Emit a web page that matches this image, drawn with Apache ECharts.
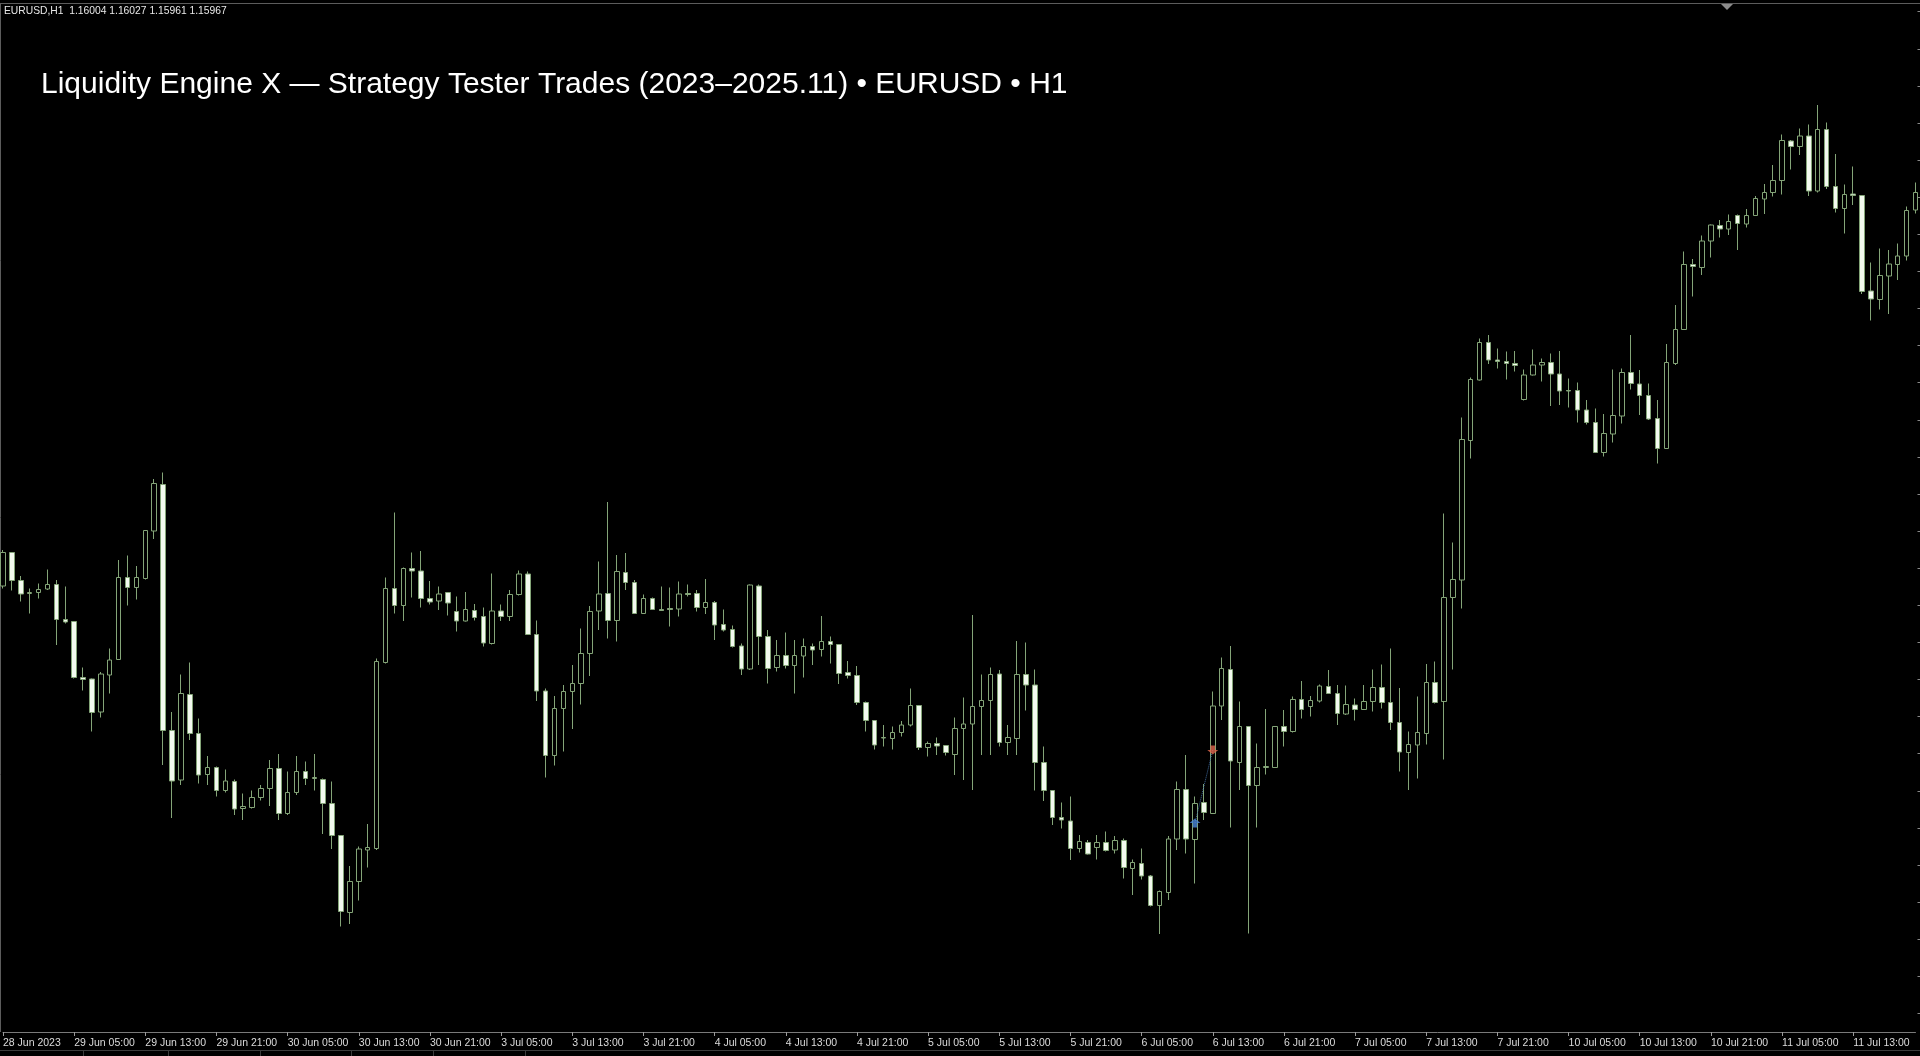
<!DOCTYPE html>
<html><head><meta charset="utf-8">
<script src="https://cdn.jsdelivr.net/npm/echarts@6/dist/echarts.min.js"></script>
<style>html,body{margin:0;padding:0;background:#000;overflow:hidden}#c{width:1920px;height:1056px}</style>
</head><body><div id="c"></div>
<script>
const chartTitle = 'Liquidity Engine X \u2014 Strategy Tester Trades (2023\u20132025.11) \u2022 EURUSD \u2022 H1';
const infoLine = 'EURUSD,H1  1.16004 1.16027 1.15961 1.15967';
const tickLabels = ['28 Jun 2023','29 Jun 05:00','29 Jun 13:00','29 Jun 21:00','30 Jun 05:00','30 Jun 13:00','30 Jun 21:00',
  '3 Jul 05:00','3 Jul 13:00','3 Jul 21:00','4 Jul 05:00','4 Jul 13:00','4 Jul 21:00','5 Jul 05:00','5 Jul 13:00','5 Jul 21:00',
  '6 Jul 05:00','6 Jul 13:00','6 Jul 21:00','7 Jul 05:00','7 Jul 13:00','7 Jul 21:00','10 Jul 05:00','10 Jul 13:00','10 Jul 21:00',
  '11 Jul 05:00','11 Jul 13:00'];
const opens = [
1.09228,1.09295,1.09239,1.09213,1.09215,1.09222,1.09231,1.09161,1.09157,1.09045,1.09042,1.08976,
1.09050,1.09081,1.09245,1.09225,1.09243,1.09338,1.09431,1.08939,1.08840,1.09011,1.08933,1.08851,
1.08865,1.08819,1.08837,1.08783,1.08785,1.08805,1.08823,1.08863,1.08773,1.08815,1.08857,1.08843,
1.08841,1.08793,1.08729,1.08575,1.08637,1.08700,1.08703,1.09075,1.09223,1.09189,1.09263,1.09258,
1.09203,1.09198,1.09215,1.09177,1.09158,1.09179,1.09167,1.09113,1.09178,1.09167,1.09211,1.09252,
1.09131,1.09018,1.08889,1.08983,1.09017,1.09033,1.09093,1.09178,1.09213,1.09159,1.09255,1.09235,
1.09173,1.09203,1.09181,1.09183,1.09182,1.09213,1.09213,1.09185,1.09195,1.09151,1.09141,1.09108,
1.09062,1.09228,1.09127,1.09065,1.09089,1.09069,1.09088,1.09107,1.09101,1.09117,1.09111,1.09055,
1.09049,1.08995,1.08959,1.08924,1.08923,1.08935,1.08950,1.08989,1.08905,1.08913,1.08909,1.08891,
1.08943,1.08952,1.08987,1.08999,1.09052,1.08915,1.08923,1.09051,1.09030,1.08875,1.08819,1.08765,
1.08758,1.08703,1.08715,1.08705,1.08715,1.08700,1.08719,1.08663,1.08673,1.08648,1.08589,1.08615,
1.08722,1.08821,1.08721,1.08795,1.08773,1.08988,1.09061,1.08875,1.08947,1.08829,1.08865,1.08865,
1.08947,1.08937,1.09001,1.08987,1.08998,1.09027,1.09013,1.08972,1.08990,1.08981,1.08997,1.09025,
1.08995,1.08955,1.08895,1.08910,1.08933,1.09035,1.08997,1.09205,1.09240,1.09519,1.09640,1.09715,
1.09680,1.09677,1.09673,1.09601,1.09650,1.09670,1.09675,1.09652,1.09619,1.09619,1.09580,1.09555,
1.09495,1.09532,1.09568,1.09655,1.09632,1.09609,1.09563,1.09503,1.09673,1.09741,1.09871,1.09865,
1.09918,1.09949,1.09942,1.09969,1.09952,1.09969,1.10002,1.10015,1.10039,1.10118,1.10107,1.10128,
1.10018,1.10141,1.10027,1.09983,1.10012,1.10009,1.09818,1.09801,1.09848,1.09871,1.09888,1.09980];
const closes = [
1.09295,1.09239,1.09212,1.09215,1.09221,1.09231,1.09161,1.09156,1.09045,1.09041,1.08975,1.09052,
1.09080,1.09245,1.09225,1.09245,1.09339,1.09433,1.08939,1.08838,1.09013,1.08933,1.08850,1.08865,
1.08819,1.08838,1.08782,1.08787,1.08805,1.08823,1.08863,1.08773,1.08815,1.08857,1.08843,1.08845,
1.08793,1.08729,1.08577,1.08637,1.08702,1.08705,1.09077,1.09223,1.09189,1.09263,1.09258,1.09203,
1.09196,1.09212,1.09194,1.09158,1.09181,1.09165,1.09114,1.09178,1.09167,1.09211,1.09252,1.09131,
1.09018,1.08889,1.08983,1.09017,1.09033,1.09093,1.09177,1.09212,1.09159,1.09257,1.09235,1.09173,
1.09203,1.09181,1.09179,1.09181,1.09212,1.09211,1.09185,1.09195,1.09150,1.09140,1.09107,1.09062,
1.09230,1.09127,1.09063,1.09089,1.09069,1.09089,1.09107,1.09100,1.09117,1.09111,1.09053,1.09049,
1.08995,1.08959,1.08910,1.08925,1.08935,1.08950,1.08989,1.08905,1.08913,1.08908,1.08895,1.08943,
1.08952,1.08987,1.08999,1.09051,1.08915,1.08925,1.09051,1.09030,1.08875,1.08819,1.08765,1.08760,
1.08703,1.08717,1.08692,1.08715,1.08699,1.08719,1.08665,1.08675,1.08648,1.08589,1.08617,1.08722,
1.08821,1.08722,1.08793,1.08775,1.08988,1.09063,1.08878,1.08947,1.08829,1.08865,1.08867,1.08947,
1.08937,1.09001,1.08981,1.08999,1.09028,1.09013,1.08973,1.08991,1.08981,1.08997,1.09025,1.08995,
1.08955,1.08896,1.08911,1.08935,1.09035,1.08995,1.09205,1.09241,1.09521,1.09641,1.09715,1.09680,
1.09677,1.09673,1.09669,1.09650,1.09670,1.09675,1.09652,1.09618,1.09618,1.09580,1.09555,1.09495,
1.09533,1.09569,1.09655,1.09633,1.09609,1.09562,1.09503,1.09675,1.09741,1.09871,1.09867,1.09918,
1.09950,1.09942,1.09957,1.09953,1.09969,1.10003,1.10015,1.10039,1.10119,1.10107,1.10128,1.10018,
1.10141,1.10027,1.09983,1.10011,1.10009,1.09817,1.09802,1.09849,1.09872,1.09888,1.09979,1.10015];
const lows = [
1.09223,1.09219,1.09197,1.09173,1.09203,1.09220,1.09110,1.09153,1.09043,1.09019,1.08937,1.08965,
1.09013,1.09080,1.09189,1.09201,1.09241,1.09322,1.08870,1.08764,1.08830,1.08920,1.08833,1.08830,
1.08807,1.08815,1.08770,1.08760,1.08783,1.08799,1.08788,1.08760,1.08770,1.08810,1.08830,1.08819,
1.08732,1.08702,1.08547,1.08552,1.08599,1.08665,1.08700,1.09073,1.09173,1.09158,1.09205,1.09185,
1.09191,1.09180,1.09169,1.09137,1.09157,1.09159,1.09107,1.09111,1.09158,1.09158,1.09209,1.09130,
1.08998,1.08845,1.08869,1.08897,1.08942,1.08991,1.09048,1.09140,1.09123,1.09117,1.09220,1.09172,
1.09172,1.09180,1.09178,1.09147,1.09167,1.09207,1.09177,1.09172,1.09120,1.09137,1.09105,1.09050,
1.09060,1.09070,1.09033,1.09057,1.09063,1.09013,1.09045,1.09070,1.09087,1.09073,1.09032,1.09043,
1.08990,1.08937,1.08901,1.08907,1.08901,1.08927,1.08947,1.08900,1.08887,1.08890,1.08889,1.08850,
1.08840,1.08820,1.08890,1.08890,1.08907,1.08890,1.08890,1.08979,1.08819,1.08798,1.08750,1.08743,
1.08680,1.08695,1.08691,1.08681,1.08697,1.08693,1.08643,1.08610,1.08641,1.08587,1.08532,1.08600,
1.08700,1.08693,1.08633,1.08760,1.08772,1.08960,1.08745,1.08820,1.08533,1.08745,1.08851,1.08864,
1.08907,1.08935,1.08963,1.08967,1.08995,1.09012,1.08950,1.08970,1.08959,1.08980,1.08977,1.08983,
1.08940,1.08857,1.08820,1.08843,1.08911,1.08993,1.08881,1.09061,1.09183,1.09483,1.09639,1.09672,
1.09663,1.09641,1.09657,1.09599,1.09649,1.09637,1.09588,1.09590,1.09585,1.09555,1.09551,1.09494,
1.09487,1.09515,1.09553,1.09621,1.09570,1.09560,1.09473,1.09502,1.09670,1.09740,1.09807,1.09850,
1.09885,1.09925,1.09930,1.09900,1.09945,1.09968,1.09972,1.10007,1.10011,1.10061,1.10090,1.10008,
1.10015,1.10022,1.09975,1.09933,1.09990,1.09812,1.09759,1.09781,1.09772,1.09840,1.09879,1.09973];
const highs = [
1.09300,1.09296,1.09248,1.09223,1.09233,1.09261,1.09240,1.09227,1.09158,1.09065,1.09043,1.09056,
1.09103,1.09280,1.09289,1.09268,1.09340,1.09442,1.09455,1.08976,1.09051,1.09075,1.08963,1.08888,
1.08867,1.08861,1.08841,1.08813,1.08819,1.08830,1.08880,1.08892,1.08857,1.08888,1.08877,1.08892,
1.08843,1.08837,1.08730,1.08668,1.08707,1.08752,1.09083,1.09245,1.09375,1.09265,1.09295,1.09298,
1.09238,1.09227,1.09216,1.09207,1.09216,1.09192,1.09185,1.09253,1.09191,1.09220,1.09259,1.09257,
1.09159,1.09023,1.09008,1.09030,1.09070,1.09143,1.09188,1.09277,1.09396,1.09290,1.09294,1.09240,
1.09211,1.09205,1.09227,1.09225,1.09237,1.09231,1.09220,1.09242,1.09198,1.09181,1.09149,1.09113,
1.09231,1.09231,1.09140,1.09120,1.09135,1.09120,1.09123,1.09113,1.09168,1.09127,1.09112,1.09078,
1.09068,1.08997,1.08960,1.08950,1.08947,1.08958,1.09023,1.08990,1.08917,1.08925,1.08910,1.08965,
1.09005,1.09170,1.09051,1.09065,1.09060,1.08950,1.09118,1.09115,1.09061,1.08907,1.08820,1.08795,
1.08807,1.08730,1.08720,1.08730,1.08737,1.08728,1.08723,1.08681,1.08703,1.08650,1.08619,1.08728,
1.08837,1.08890,1.08807,1.08832,1.09017,1.09085,1.09108,1.08997,1.08948,1.08913,1.08982,1.08948,
1.08980,1.09007,1.09038,1.09008,1.09031,1.09060,1.09030,1.09029,1.09003,1.09030,1.09061,1.09071,
1.09103,1.09024,1.08937,1.09007,1.09072,1.09077,1.09373,1.09315,1.09565,1.09645,1.09723,1.09730,
1.09703,1.09697,1.09698,1.09661,1.09701,1.09683,1.09693,1.09698,1.09643,1.09635,1.09600,1.09583,
1.09572,1.09661,1.09663,1.09730,1.09660,1.09633,1.09600,1.09712,1.09790,1.09897,1.09882,1.09929,
1.09951,1.09960,1.09971,1.09971,1.09982,1.10008,1.10032,1.10070,1.10131,1.10120,1.10143,1.10151,
1.10190,1.10155,1.10092,1.10031,1.10067,1.10010,1.09875,1.09903,1.09900,1.09913,1.09987,1.10035];
const priceTicks = [1.10377,1.10302,1.10228,1.10154,1.10080,1.10006,1.09931,1.09857,1.09783,1.09709,1.09635,1.09560,
  1.09486,1.09412,1.09338,1.09264,1.09189,1.09115,1.09041,1.08967,1.08893,1.08818,1.08744,1.08670,1.08596,1.08522,1.08447,1.08373];
const buyEntry = [134, 1.08754];
const sellExit = [136, 1.08900];
const priceMin = 1.08336, priceMax = 1.10400;

// hourly bar times (weekends skipped)
const categories = [];
(function(){
  let t = Date.UTC(2023, 5, 28, 21);
  while (categories.length < opens.length) {
    const d = new Date(t), wd = d.getUTCDay();
    if (wd !== 0 && wd !== 6) categories.push(d.toISOString().slice(0,16).replace('T',' '));
    t += 3600000;
  }
})();
const candleData = opens.map((o, i) => [o, closes[i], lows[i], highs[i]]);

const G = '#84a578';
const tabX = [83, 168, 260, 351, 433, 525];
const chart = echarts.init(document.getElementById('c'), null, {renderer: 'canvas'});
chart.setOption({
  backgroundColor: '#000000',
  animation: false,
  grid: {left: 2, right: 4.5, top: 0, bottom: 24, containLabel: false},
  xAxis: {
    type: 'category', data: categories, boundaryGap: false,
    axisLine: {show: true, lineStyle: {color: '#7a7a7a', width: 1}},
    axisTick: {show: true, interval: (i) => i % 8 === 0, length: 4, lineStyle: {color: '#9a9a9a'}},
    axisLabel: {
      show: true, interval: (i) => i % 8 === 0, align: 'left', margin: 6,
      color: '#dcdcdc', fontSize: 10.5, fontFamily: 'Liberation Sans, Arial, sans-serif',
      formatter: (v, i) => tickLabels[Math.round(i / 8)] || ''
    },
    splitLine: {show: false}
  },
  yAxis: {
    type: 'value', position: 'right', min: priceMin, max: priceMax, offset: 2, scale: true,
    axisLine: {show: false},
    axisTick: {show: true, customValues: priceTicks, length: 3, lineStyle: {color: '#8a8a8a'}},
    axisLabel: {show: false},
    splitLine: {show: false}
  },
  title: {show: false},
  graphic: [
    {type: 'line', shape: {x1: 0, y1: 3.5, x2: 1920, y2: 3.5}, style: {stroke: '#5c5c5c', lineWidth: 1}, silent: true},
    {type: 'line', shape: {x1: 0.5, y1: 3, x2: 0.5, y2: 1032}, style: {stroke: '#5c5c5c', lineWidth: 1}, silent: true},
    {type: 'polygon', shape: {points: [[1721, 4], [1733, 4], [1727, 10]]}, style: {fill: '#8c8c8c'}, silent: true},
    {type: 'line', shape: {x1: 0, y1: 1050.5, x2: 1920, y2: 1050.5}, style: {stroke: '#3c3c3c', lineWidth: 1}, silent: true},
    ...tabX.map(x => ({type: 'line', shape: {x1: x + 0.5, y1: 1050, x2: x + 0.5, y2: 1056}, style: {stroke: '#3c3c3c', lineWidth: 1}, silent: true})),
    {type: 'text', left: 4, top: 6, style: {text: infoLine, fill: '#e8e8e8', fontSize: 10.3, fontFamily: 'Liberation Sans, Arial, sans-serif'}, silent: true},
    {type: 'text', x: 41, y: 70, style: {text: chartTitle, fill: '#ffffff', fontSize: 30, fontFamily: 'Liberation Sans, Arial, sans-serif'}, silent: true}
  ],
  series: [
    {
      type: 'candlestick', data: candleData, barWidth: 5, clip: false,
      itemStyle: {color: '#000000', color0: '#f3faef', borderColor: G, borderColor0: G, borderWidth: 1}
    },
    {
      type: 'line', data: [buyEntry, sellExit], symbol: 'none', silent: true,
      lineStyle: {color: '#3f6b9e', width: 1, type: 'dotted'}, z: 3
    },
    {
      type: 'scatter', data: [buyEntry], symbol: 'path://M6,0 L12,5 L8.5,5 L8.5,10 L3.5,10 L3.5,5 L0,5 Z', symbolSize: [11, 9],
      itemStyle: {color: '#4a86d8'}, z: 5, silent: true
    },
    {
      type: 'scatter', data: [sellExit], symbol: 'path://M6,10 L12,5 L8.5,5 L8.5,0 L3.5,0 L3.5,5 L0,5 Z', symbolSize: [11, 9],
      itemStyle: {color: '#e2684e'}, z: 5, silent: true
    }
  ]
});
</script></body></html>
